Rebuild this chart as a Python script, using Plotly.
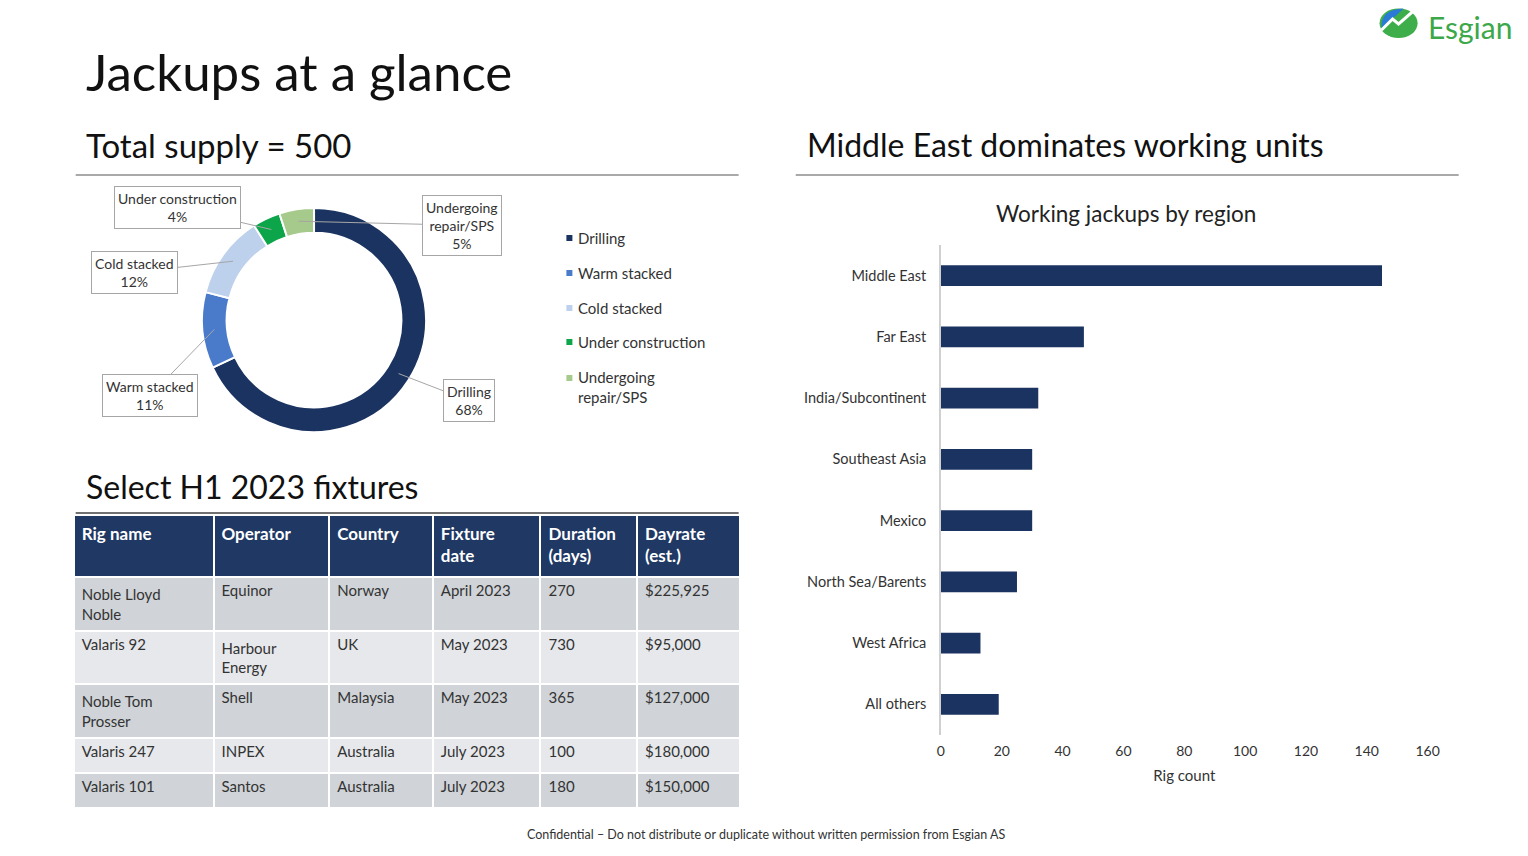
import math
import plotly.graph_objects as go

# page is 1528x856 with the default 8px body margin, so the figure is 1512x840
W, H = 1512, 840
OFF = 8
FONT = "Lato"
TXT = "#333333"

# ---- data ----
status_labels = ["Drilling", "Warm stacked", "Cold stacked", "Under construction", "Undergoing repair/SPS"]
status_counts = [340, 55, 60, 20, 25]
status_colors = ["#1B3360", "#4A7BCB", "#BDD0EC", "#0DA54A", "#A6C98C"]

regions = ["Middle East", "Far East", "India/Subcontinent", "Southeast Asia",
           "Mexico", "North Sea/Barents", "West Africa", "All others"]
rig_counts = [145, 47, 32, 30, 30, 25, 13, 19]

table_header = ["Rig name", "Operator", "Country", "Fixture<br>date", "Duration<br>(days)", "Dayrate<br>(est.)"]
rig_names = ["Noble Lloyd<br>Noble", "Valaris 92", "Noble Tom<br>Prosser", "Valaris 247", "Valaris 101"]
operators = ["Equinor", "Harbour<br>Energy", "Shell", "INPEX", "Santos"]
countries = ["Norway", "UK", "Malaysia", "Australia", "Australia"]
fixture_dates = ["April 2023", "May 2023", "May 2023", "July 2023", "July 2023"]
durations = [270, 730, 365, 100, 180]
dayrates = [225925, 95000, 127000, 180000, 150000]


def px(x):
    # screen x -> paper (small horizontal correction measured on the rendered page)
    return ((x - 4.5) / 0.988 - OFF) / W


def py(y):
    return 1 - (y - OFF) / H


fig = go.Figure()

# ---- donut ----
cx, cy, r_out = 314, 320, 112
fig.add_trace(go.Pie(
    labels=status_labels,
    values=status_counts,
    marker=dict(colors=status_colors, line=dict(color="white", width=2)),
    hole=0.78,
    sort=False,
    direction="clockwise",
    rotation=0,
    textinfo="none",
    hoverinfo="label+percent",
    showlegend=False,
    domain=dict(x=[px(cx - r_out), px(cx + r_out)], y=[py(cy + r_out), py(cy - r_out)]),
))

# callout boxes for the slices (offset of box centre from leader tip, px)
label_offsets = [(70, 27), (-64, 66), (-99, 11), (-94, -22), (164, 4)]
total = sum(status_counts)
cum = 0
for lab, val, (ox, oy) in zip(status_labels, status_counts, label_offsets):
    mid = (cum + val / 2) / total * 2 * math.pi
    cum += val
    tx = cx + 100 * math.sin(mid)
    ty = cy - 100 * math.cos(mid)
    text = "Undergoing<br>repair/SPS" if lab == "Undergoing repair/SPS" else lab
    fig.add_annotation(
        x=px(tx), y=py(ty), xref="paper", yref="paper",
        ax=ox, ay=oy, showarrow=True, arrowhead=0, arrowwidth=1,
        arrowcolor="#A6A6A6", standoff=0,
        text=f"{text}<br>{round(val / total * 100)}%",
        font=dict(family=FONT, size=14, color=TXT),
        bgcolor="white", bordercolor="#A6A6A6", borderwidth=1, borderpad=3,
    )

# legend (custom spacing)
legend_y = [238, 273, 308, 342, 387]
for lab, col, ly in zip(status_labels, status_colors, legend_y):
    text = "Undergoing<br>repair/SPS" if lab == "Undergoing repair/SPS" else lab
    sq_y = ly if "<br>" not in text else ly - 9
    fig.add_shape(type="rect", xref="paper", yref="paper",
                  x0=px(566), x1=px(572), y0=py(sq_y + 3), y1=py(sq_y - 3),
                  fillcolor=col, line=dict(width=0))
    fig.add_annotation(x=px(576), y=py(ly), xref="paper", yref="paper",
                       xanchor="left", yanchor="middle", align="left", showarrow=False,
                       text=text, font=dict(family=FONT, size=15, color=TXT))

# ---- table ----
row_fill = ["#D0D3D8", "#E6E8EB", "#D0D3D8", "#E6E8EB", "#D0D3D8"]
fig.add_trace(go.Table(
    domain=dict(x=[px(74), px(740)], y=[py(815), py(515)]),
    columnwidth=[139, 115, 103, 107, 96, 102],
    header=dict(
        values=[f"<b>{h}</b>" for h in table_header],
        fill_color="#1F3864",
        line=dict(color="white", width=2),
        align="left",
        height=62,
        font=dict(family=FONT, size=17, color="white"),
    ),
    cells=dict(
        values=[rig_names, operators, countries, fixture_dates,
                [str(d) for d in durations], [f"${v:,}" for v in dayrates]],
        fill_color=[row_fill] * 6,
        line=dict(color="white", width=2),
        align="left",
        height=35,
        font=dict(family=FONT, size=15, color=TXT),
    ),
))

# ---- bar chart ----
fig.add_trace(go.Bar(
    y=regions, x=rig_counts, orientation="h",
    marker=dict(color="#1B3360", line=dict(width=0)),
    width=0.34, showlegend=False,
    xaxis="x", yaxis="y",
))
fig.update_xaxes(
    domain=[px(940), px(1426)], range=[0, 160], dtick=20,
    showgrid=False, zeroline=False, showline=False, ticks="",
    ticklabelstandoff=6,
    tickfont=dict(family=FONT, size=14, color=TXT),
    title=dict(text="Rig count", font=dict(family=FONT, size=15, color=TXT), standoff=12),
    anchor="y",
)
fig.update_yaxes(
    domain=[py(735), py(245)], autorange="reversed",
    showgrid=False, zeroline=False, showline=True, linecolor="#D0D0D0", linewidth=1.5,
    ticks="", ticklabelstandoff=10,
    tickfont=dict(family=FONT, size=14.5, color=TXT),
    anchor="x",
)


# ---- slide text ----
def label(x, y, text, size, color="#111111", anchor="left", pad=1):
    fig.add_annotation(x=px(x), y=py(y), xref="paper", yref="paper", xanchor=anchor,
                       yanchor="middle", showarrow=False, text=text, borderpad=pad,
                       font=dict(family=FONT, size=size, color=color))


label(84, 72, "Jackups at a glance", 51)
label(84, 145, "Total supply = 500", 33)
label(804, 145, "Middle East dominates working units", 32)
label(84, 486, "Select H1 2023 fixtures", 32)
label(1125, 213, "Working jackups by region", 22.5, "#222222", "center")
label(766, 834, "Confidential – Do not distribute or duplicate without written permission from Esgian AS",
      12.5, TXT, "center")
label(1425, 27, "Esgian", 30, "#3DA849", pad=0)

for x0, x1, y, col in [(76, 738, 175, "#8C8C8C"), (795, 1457, 175, "#8C8C8C"), (76, 738, 513, "#404040")]:
    fig.add_shape(type="line", xref="paper", yref="paper", x0=px(x0), x1=px(x1),
                  y0=py(y), y1=py(y), line=dict(color=col, width=1.5))

# logo mark
fig.add_shape(type="circle", xref="paper", yref="paper", x0=px(1378), x1=px(1416),
              y0=py(38), y1=py(8.5), fillcolor="#3DAE49", line=dict(width=0))
fig.add_shape(type="path", xref="paper", yref="paper",
              path=f"M {px(1380)},{py(28)} Q {px(1379)},{py(9)} {px(1402)},{py(8.5)} "
                   f"L {px(1394)},{py(16)} L {px(1388)},{py(20)} Z",
              fillcolor="#2B7BD6", line=dict(width=0))
fig.add_shape(type="path", xref="paper", yref="paper",
              path=f"M {px(1380)},{py(30)} L {px(1391)},{py(19)} L {px(1397)},{py(24)} L {px(1414)},{py(9)}",
              line=dict(color="white", width=3))

fig.update_layout(
    width=W, height=H,
    margin=dict(l=0, r=0, t=0, b=0),
    paper_bgcolor="white", plot_bgcolor="white",
    font=dict(family=FONT, color=TXT),
)

fig.write_html("out.html")
